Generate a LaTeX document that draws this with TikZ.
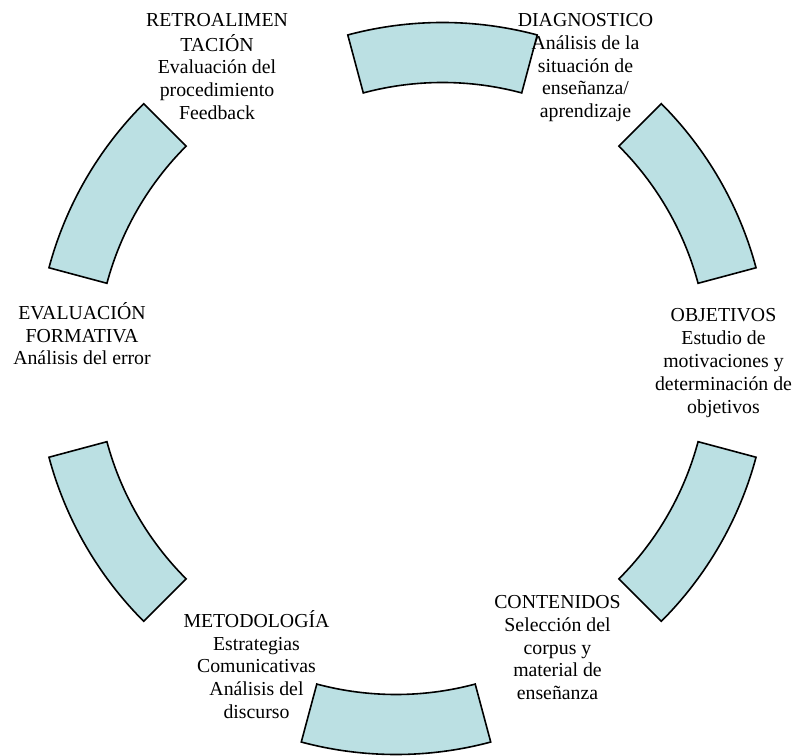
\documentclass[tikz,border=0pt]{standalone}
\usepackage{fontspec}
\setmainfont{Liberation Serif}
\definecolor{arcfill}{RGB}{187,224,227}
\newcommand\blkarc[2]{%
  \draw[blockarc,shift={#1}] (#2:306pt) -- (#2:366pt)
    arc[start angle=#2, delta angle=30, radius=366pt]
    -- ({#2+30}:306pt)
    arc[start angle={#2+30}, delta angle=-30, radius=306pt] -- cycle;}
\begin{document}
\begin{tikzpicture}[x=1pt,y=1pt,
  blockarc/.style={draw=black, line width=1.6pt, fill=arcfill, line join=miter},
  lbl/.style={anchor=north, align=center, inner sep=0pt, text=black,
    font=\fontsize{19.8}{22.9}\selectfont}]
\useasboundingbox (0,0) rectangle (795,755);
% block arcs
\blkarc{(442.5,366.5)}{75}
\blkarc{(402.5,392.5)}{15}
\blkarc{(402.5,392.5)}{-45}
\blkarc{(396,366.5)}{255}
\blkarc{(402.5,392.5)}{195}
\blkarc{(402.5,392.5)}{135}
% labels
\node[lbl] (retro) at (217,745) {\strut RETROALIMEN\\TACIÓN\\Evaluación del\\procedimiento\\Feedback};
\node[lbl] (diag) at (585.5,745) {\strut DIAGNOSTICO\\Análisis de la\\situación de\\enseñanza/\\aprendizaje};
\node[lbl] (obj) at (723.5,449.5) {\strut OBJETIVOS\\Estudio de\\motivaciones y\\determinación de\\objetivos};
\node[lbl] (eval) at (82,453) {\strut EVALUACIÓN\\FORMATIVA\\Análisis del error};
\node[lbl] (cont) at (557.5,163) {\strut CONTENIDOS\\Selección del\\corpus y\\material de\\enseñanza};
\node[lbl] (metod) at (256.5,145) {\strut METODOLOGÍA\\Estrategias\\Comunicativas\\Análisis del\\discurso};
\end{tikzpicture}
\end{document}
